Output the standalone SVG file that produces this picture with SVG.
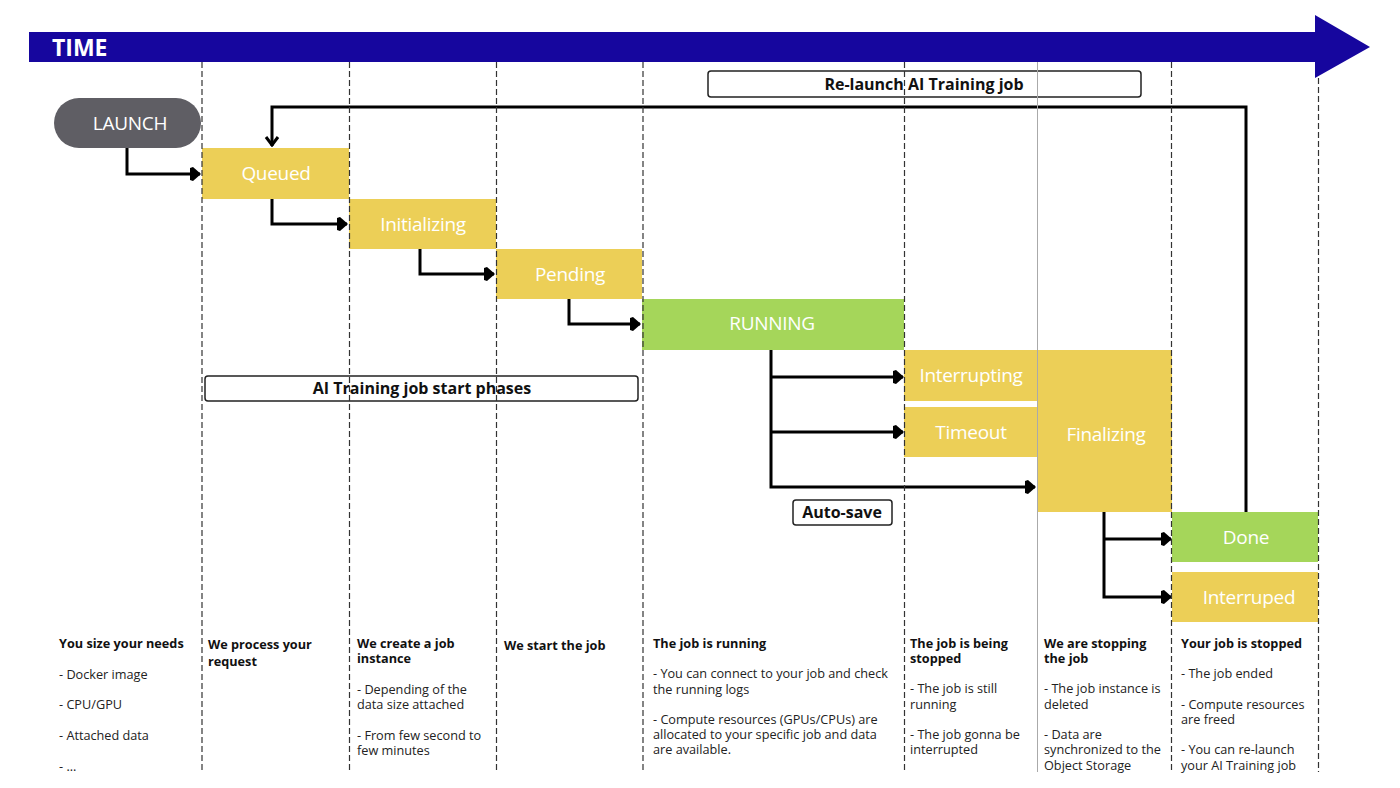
<svg xmlns="http://www.w3.org/2000/svg" width="1400" height="788" viewBox="0 0 1400 788">
<style>
.lbl{font-family:"Open Sans","Liberation Sans",sans-serif;font-size:19px;font-weight:400;letter-spacing:-0.3px;fill:#fff;text-anchor:middle;dominant-baseline:central}
.yel{fill:#ECCF57}
.grn{fill:#A5D65A}
.dash{stroke:#333;stroke-width:1.2;stroke-dasharray:6 3;fill:none}
.con{stroke:#000;stroke-width:3;fill:none}
.bx{fill:#fff;stroke:#222;stroke-width:1.5}
.bxt{font-family:"Open Sans","Liberation Sans",sans-serif;font-size:16px;font-weight:bold;fill:#111;text-anchor:middle;dominant-baseline:central}
.t{font-family:"Open Sans","Liberation Sans",sans-serif;font-size:12.7px;fill:#222}
.h{font-weight:bold;fill:#111}
</style>
<defs>
<marker id="ah" viewBox="0 -7 11 14" markerWidth="11" markerHeight="14" refX="10" refY="0" orient="auto" markerUnits="userSpaceOnUse">
<path d="M0,-6 L3,-7 L11,0 L3,7 L0,6 Z" fill="#000"/>
</marker>
<marker id="av" viewBox="-1 -8 11 16" markerWidth="11" markerHeight="16" refX="9" refY="0" orient="auto" markerUnits="userSpaceOnUse">
<path d="M0,-6 L8,0 L0,6" fill="none" stroke="#000" stroke-width="3"/>
</marker>
</defs>
<rect width="1400" height="788" fill="#fff"/>

<g id="time">
<path d="M29,32 H1315 V15 L1370,47 L1315,78 V62 H29 Z" fill="#16069E"/>
<text x="52" y="47" font-family="'Open Sans','Liberation Sans',sans-serif" font-size="23" font-weight="bold" fill="#fff" dominant-baseline="central">TIME</text>
</g>

<g id="launch">
<rect x="54" y="98" width="147" height="50" rx="25" fill="#5F5E64"/>
<text class="lbl" x="130" y="123">LAUNCH</text>
</g>
<g id="queued"><rect class="yel" x="202" y="148" width="147" height="51"/><text class="lbl" x="276" y="173">Queued</text></g>
<g id="initializing"><rect class="yel" x="349" y="199" width="147" height="50"/><text class="lbl" x="423" y="224">Initializing</text></g>
<g id="pending"><rect class="yel" x="496" y="249" width="146" height="50"/><text class="lbl" x="570" y="274">Pending</text></g>
<g id="running"><rect class="grn" x="642" y="299" width="262" height="51"/><text class="lbl" x="772" y="323">RUNNING</text></g>
<g id="interrupting"><rect class="yel" x="904" y="350" width="133" height="51"/><text class="lbl" x="971" y="375">Interrupting</text></g>
<g id="timeout"><rect class="yel" x="904" y="407" width="133" height="50"/><text class="lbl" x="971" y="432">Timeout</text></g>
<g id="finalizing"><rect class="yel" x="1037" y="350" width="135" height="162"/><text class="lbl" x="1106" y="434">Finalizing</text></g>
<g id="done"><rect class="grn" x="1172" y="512" width="146" height="50"/><text class="lbl" x="1246" y="537">Done</text></g>
<g id="interruped"><rect class="yel" x="1172" y="572" width="146" height="50"/><text class="lbl" x="1249" y="597">Interruped</text></g>

<g id="relaunch-label">
<rect class="bx" x="708" y="71" width="433" height="26" rx="3"/>
<text class="bxt" x="924" y="84">Re-launch AI Training job</text>
</g>
<g id="start-phases-label">
<rect class="bx" x="205" y="376" width="433" height="25" rx="3"/>
<text class="bxt" x="422" y="388">AI Training job start phases</text>
</g>
<g id="autosave-label">
<rect class="bx" x="793" y="500" width="99" height="25" rx="3"/>
<text class="bxt" x="842" y="512">Auto-save</text>
</g>

<g id="connectors">
<path class="con" d="M127,148 V174 H200" marker-end="url(#ah)"/>
<path class="con" d="M272,199 V224 H347" marker-end="url(#ah)"/>
<path class="con" d="M420,249 V274 H494" marker-end="url(#ah)"/>
<path class="con" d="M569,299 V324 H640" marker-end="url(#ah)"/>
<path class="con" d="M771,350 V487 H1035" marker-end="url(#ah)"/>
<path class="con" d="M771,377 H903" marker-end="url(#ah)"/>
<path class="con" d="M771,432 H903" marker-end="url(#ah)"/>
<path class="con" d="M1104,512 V597 H1171" marker-end="url(#ah)"/>
<path class="con" d="M1104,539 H1171" marker-end="url(#ah)"/>
<path class="con" d="M1246,512 V107 H272 V146" marker-end="url(#av)"/>
</g>

<g id="gridlines">
<line class="dash" x1="202" y1="62" x2="202" y2="772"/>
<line class="dash" x1="349.5" y1="62" x2="349.5" y2="772"/>
<line class="dash" x1="496.5" y1="62" x2="496.5" y2="772"/>
<line class="dash" x1="643" y1="62" x2="643" y2="772"/>
<line class="dash" x1="904.5" y1="62" x2="904.5" y2="772"/>
<line x1="1037.5" y1="62" x2="1037.5" y2="772" stroke="#aaa" stroke-width="1"/>
<line class="dash" x1="1171.5" y1="62" x2="1171.5" y2="772"/>
<line class="dash" x1="1318.5" y1="78" x2="1318.5" y2="772"/>
</g>

<g id="descriptions">
<text class="t" x="59"><tspan class="h" x="59" y="648">You size your needs</tspan><tspan x="59" y="679">- Docker image</tspan><tspan x="59" y="709">- CPU/GPU</tspan><tspan x="59" y="740">- Attached data</tspan><tspan x="59" y="771">-  ...</tspan></text>
<text class="t"><tspan class="h" x="208" y="649">We process your</tspan><tspan class="h" x="208" y="666">request</tspan></text>
<text class="t"><tspan class="h" x="357" y="648">We create a job</tspan><tspan class="h" x="357" y="663">instance</tspan><tspan x="357" y="694">- Depending of the</tspan><tspan x="357" y="709">data size attached</tspan><tspan x="357" y="740">- From few second to</tspan><tspan x="357" y="755">few minutes</tspan></text>
<text class="t"><tspan class="h" x="504" y="650">We start the job</tspan></text>
<text class="t"><tspan class="h" x="653" y="648">The job is running</tspan><tspan x="653" y="678">- You can connect to your job and check</tspan><tspan x="653" y="694">the running logs</tspan><tspan x="653" y="724">- Compute resources (GPUs/CPUs) are</tspan><tspan x="653" y="739">allocated to your specific job and data</tspan><tspan x="653" y="754">are available.</tspan></text>
<text class="t"><tspan class="h" x="910" y="648">The job is being</tspan><tspan class="h" x="910" y="663">stopped</tspan><tspan x="910" y="693">- The job is still</tspan><tspan x="910" y="709">running</tspan><tspan x="910" y="739">- The job gonna be</tspan><tspan x="910" y="754">interrupted</tspan></text>
<text class="t"><tspan class="h" x="1044" y="648">We are stopping</tspan><tspan class="h" x="1044" y="663">the job</tspan><tspan x="1044" y="693">- The job instance is</tspan><tspan x="1044" y="709">deleted</tspan><tspan x="1044" y="739">- Data are</tspan><tspan x="1044" y="754">synchronized to the</tspan><tspan x="1044" y="770">Object Storage</tspan></text>
<text class="t"><tspan class="h" x="1181" y="648">Your job is stopped</tspan><tspan x="1181" y="678">- The job ended</tspan><tspan x="1181" y="709">- Compute resources</tspan><tspan x="1181" y="724">are freed</tspan><tspan x="1181" y="754">- You can re-launch</tspan><tspan x="1181" y="770">your AI Training job</tspan></text>
</g>
</svg>
